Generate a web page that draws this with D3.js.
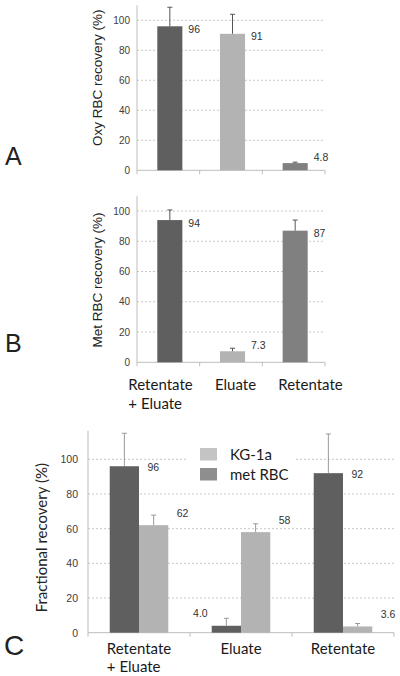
<!DOCTYPE html>
<html><head><meta charset="utf-8">
<script src="https://cdn.jsdelivr.net/npm/d3@7"></script>
<style>
html,body{margin:0;padding:0;background:#fff;}
svg{display:block;}
</style>
</head><body>
<svg id="chart" width="400" height="676"></svg>
<script>
// ---- data ----
const categoryLines = [["Retentate", "+ Eluate"], ["Eluate"], ["Retentate"]];
const yTicks = [0, 20, 40, 60, 80, 100];

const oxyValues = [96, 91, 4.8];
const oxyErrors = [12.7, 13, 0.6];
const oxyLabels = ["96", "91", "4.8"];

const metValues = [94, 7.3, 87];
const metErrors = [6.7, 2, 7];
const metLabels = ["94", "7.3", "87"];

const metRbcValues = [96, 4.0, 92];
const metRbcErrors = [19, 4.3, 22.6];
const metRbcLabels = ["96", "4.0", "92"];

const kg1aValues = [62, 58, 3.6];
const kg1aErrors = [5.8, 4.8, 1.7];
const kg1aLabels = ["62", "58", "3.6"];

const seriesNames = ["KG-1a", "met RBC"];

// ---- styles ----
const singleColors = ["#5f5f5f", "#b3b3b3", "#808080"];
const darkColor = "#5f5f5f", lightColor = "#b3b3b3";
const legendColors = ["#c4c4c4", "#8e8e8e"];
const arial = "Liberation Sans, Arial, sans-serif";
const calib = "Lato, 'Open Sans', sans-serif";

const svg = d3.select("#chart");

function axesAndGrid(g, x, y, left, right, ymaxPx, y0, tickFontSize, tickGap) {
  g.selectAll(".grid").data(yTicks.filter(d => d > 0)).join("line")
    .attr("x1", left).attr("x2", right)
    .attr("y1", d => y(d)).attr("y2", d => y(d))
    .attr("stroke", "#c8c8c8").attr("stroke-width", 1)
    .attr("stroke-dasharray", "2,2");
  const ya = d3.axisLeft(y).tickValues(yTicks).tickSize(0).tickPadding(tickGap);
  const yg = g.append("g").attr("transform", `translate(${left},0)`).call(ya);
  yg.select(".domain").remove();
  yg.selectAll("text").attr("font-family", arial).attr("font-size", tickFontSize).attr("fill", "#404040");
  g.append("line").attr("x1", left).attr("x2", left).attr("y1", ymaxPx).attr("y2", y0)
    .attr("stroke", "#bdbdbd");
  g.append("line").attr("x1", left).attr("x2", right).attr("y1", y0).attr("y2", y0)
    .attr("stroke", "#bdbdbd");
  const bounds = x.domain().map(d => x(d)).concat([right]);
  g.selectAll(".xt").data(bounds).join("line")
    .attr("x1", d => d).attr("x2", d => d).attr("y1", y0).attr("y2", y0 + 4)
    .attr("stroke", "#bdbdbd");
}

function errorBar(g, cx, yTop, yErr, color) {
  g.append("line").attr("x1", cx).attr("x2", cx).attr("y1", yTop).attr("y2", yErr)
    .attr("stroke", color).attr("stroke-width", 1);
  g.append("line").attr("x1", cx - 2.5).attr("x2", cx + 2.5).attr("y1", yErr).attr("y2", yErr)
    .attr("stroke", color).attr("stroke-width", 1);
}

function categoryLabels(g, x, top, fontSize, lineGap) {
  categoryLines.forEach((lines, i) => {
    const cx = x(i) + x.bandwidth() / 2;
    const t = g.append("text").attr("font-family", calib).attr("font-size", fontSize).attr("fill", "#1a1a1a");
    const first = t.append("tspan").text(lines[0]).attr("y", top);
    const w = first.node().getComputedTextLength();
    first.attr("x", cx - w / 2);
    lines.slice(1).forEach((ln, k) => {
      t.append("tspan").text(ln).attr("x", cx - w / 2).attr("y", top + (k + 1) * lineGap);
    });
  });
}

function singlePanel(opt) {
  const g = svg.append("g");
  const x = d3.scaleBand().domain([0, 1, 2]).range([opt.left, opt.right]);
  const y = d3.scaleLinear().domain([0, 100]).range([opt.y0, opt.y100]);
  const ymaxPx = y(opt.ymax);
  axesAndGrid(g, x, y, opt.left, opt.right, ymaxPx, opt.y0, 10, 7);
  const bw = x.bandwidth() * 0.4;
  opt.values.forEach((v, i) => {
    const cx = x(i) + x.bandwidth() / 2 + 1.5;
    g.append("rect").attr("x", cx - bw / 2).attr("width", bw)
      .attr("y", y(v)).attr("height", opt.y0 - y(v)).attr("fill", singleColors[i]);
    errorBar(g, cx, y(v), y(v + opt.errors[i]), "#555");
    const ly = v >= 80 ? y(v) + 3 : y(v) - 6;
    g.append("text").attr("x", cx + bw / 2 + 6).attr("y", ly).attr("dy", "0.35em")
      .attr("font-family", arial).attr("font-size", 10.5).attr("fill", "#333").text(opt.labels[i]);
  });
  g.append("text").attr("transform", `translate(${opt.titleX},${(opt.y0 + ymaxPx) / 2 + opt.titleShift}) rotate(-90)`)
    .attr("text-anchor", "middle").attr("dy", "0.35em")
    .attr("font-family", arial).attr("font-size", 13.5).attr("fill", "#222").text(opt.title);
  g.append("text").attr("x", 5).attr("y", opt.letterY).attr("font-family", arial)
    .attr("font-size", 25).attr("fill", "#222").text(opt.letter);
  return {g, x, y};
}

// Panel A
singlePanel({left: 137, right: 325, y0: 170.3, y100: 20.3, ymax: 110,
  values: oxyValues, errors: oxyErrors, labels: oxyLabels,
  title: "Oxy RBC recovery (%)", titleX: 97, titleShift: -10, letter: "A", letterY: 165});

// Panel B
const pB = singlePanel({left: 137, right: 325, y0: 362.3, y100: 211, ymax: 110,
  values: metValues, errors: metErrors, labels: metLabels,
  title: "Met RBC recovery (%)", titleX: 97, titleShift: 1, letter: "B", letterY: 352});
const labelBandB = d3.scaleBand().domain([0, 1, 2]).range([123, 348]);
categoryLabels(pB.g, labelBandB, 390, 15, 18.5);

// Panel C
(function() {
  const left = 88, right = 394, y0 = 632.7;
  const g = svg.append("g");
  const x = d3.scaleBand().domain([0, 1, 2]).range([left, right]);
  const y = d3.scaleLinear().domain([0, 100]).range([y0, 459.3]);
  const ymaxPx = y(116.5);
  axesAndGrid(g, x, y, left, right, ymaxPx, y0, 10.5, 10);
  const bw = x.bandwidth() * 0.287;
  const series = [
    {values: metRbcValues, errors: metRbcErrors, labels: metRbcLabels, color: darkColor, off: -1},
    {values: kg1aValues, errors: kg1aErrors, labels: kg1aLabels, color: lightColor, off: 0}
  ];
  series.forEach((s, si) => {
    s.values.forEach((v, i) => {
      const bx = x(i) + x.bandwidth() / 2 + s.off * bw;
      const cx = bx + bw / 2;
      g.append("rect").attr("x", bx).attr("width", bw)
        .attr("y", y(v)).attr("height", y0 - y(v)).attr("fill", s.color);
      errorBar(g, cx, y(v), y(v + s.errors[i]), "#999");
      const other = series[1 - si].values[i];
      const leftSide = si === 0 && other > v;
      const ly = v >= 80 ? y(v) + 1 : y(v) - 12;
      g.append("text")
        .attr("x", leftSide ? bx - 4 : bx + bw + 8.5)
        .attr("text-anchor", leftSide ? "end" : "start")
        .attr("y", ly).attr("dy", "0.35em")
        .attr("font-family", arial).attr("font-size", 10.5).attr("fill", "#333").text(s.labels[i]);
    });
  });
  const lg = g.append("g");
  lg.append("rect").attr("x", 186).attr("y", 440).attr("width", 108).attr("height", 48).attr("fill", "#fff");
  seriesNames.forEach((n, i) => {
    lg.append("rect").attr("x", 200).attr("y", 448 + i * 20).attr("width", 17).attr("height", 12.5)
      .attr("fill", legendColors[i]);
    lg.append("text").attr("x", 230).attr("y", 454.5 + i * 20).attr("dy", "0.35em")
      .attr("font-family", calib).attr("font-size", 15).attr("fill", "#1a1a1a").text(n);
  });
  g.append("text").attr("transform", `translate(42,${(y0 + ymaxPx) / 2 + 6}) rotate(-90)`)
    .attr("text-anchor", "middle").attr("dy", "0.35em")
    .attr("font-family", calib).attr("font-size", 15).attr("fill", "#222").text("Fractional recovery (%)");
  g.append("text").attr("x", 4).attr("y", 655).attr("font-family", arial)
    .attr("font-size", 28).attr("fill", "#222").text("C");
  categoryLabels(g, x, 653.5, 15, 18.5);
})();
</script>
</body></html>
